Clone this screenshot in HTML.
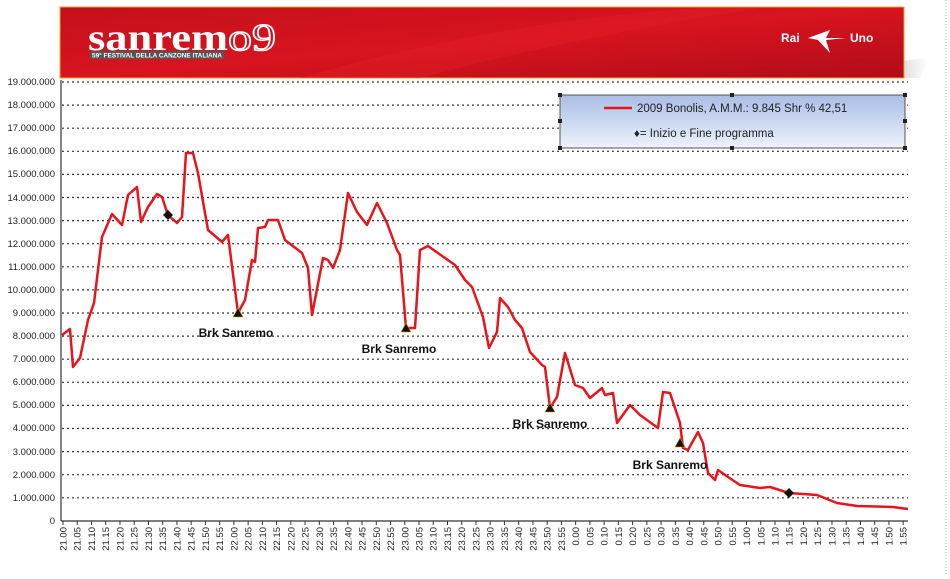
<!DOCTYPE html>
<html><head><meta charset="utf-8"><style>
body{margin:0;background:#fff;width:950px;height:574px;overflow:hidden;font-family:"Liberation Sans",sans-serif}
</style></head><body>
<svg width="950" height="574" viewBox="0 0 950 574" xmlns="http://www.w3.org/2000/svg" font-family="Liberation Sans, sans-serif">
<defs>
<linearGradient id="bn" x1="0" y1="0" x2="1" y2="1">
<stop offset="0" stop-color="#c4101c"/><stop offset="0.5" stop-color="#d8141f"/><stop offset="1" stop-color="#b00c18"/>
</linearGradient>
<linearGradient id="lg" x1="0" y1="0" x2="0" y2="1">
<stop offset="0" stop-color="#a9bde6"/><stop offset="1" stop-color="#eef2fb"/>
</linearGradient>
<linearGradient id="sh" x1="0" y1="0" x2="1" y2="0">
<stop offset="0" stop-color="#999" stop-opacity="0.6"/><stop offset="1" stop-color="#ccc" stop-opacity="0"/>
</linearGradient>
</defs>
<line x1="946" y1="0" x2="946" y2="574" stroke="#bbb" stroke-dasharray="1,2"/>
<polygon points="890,62 930,58 920,78 890,78" fill="url(#sh)"/>
<rect x="60" y="7" width="844" height="71" fill="url(#bn)" stroke="#f0a030" stroke-width="1"/>
<path d="M300,78 Q500,20 700,8 L760,8 Q560,40 420,78Z" fill="#e8202a" opacity="0.35"/>
<text x="88" y="50" font-family="Liberation Serif, serif" font-weight="bold" font-size="38" fill="#fff" textLength="140" lengthAdjust="spacingAndGlyphs">sanrem</text>
<text x="228" y="50" font-family="Liberation Serif, serif" font-size="38" fill="none" stroke="#fff" stroke-width="1.5" textLength="48" lengthAdjust="spacingAndGlyphs">o9</text>
<rect x="90" y="51" width="134" height="8" fill="#555"/>
<text x="92" y="57.5" font-size="6.5" font-weight="bold" fill="#fff" textLength="130" lengthAdjust="spacingAndGlyphs">59° FESTIVAL DELLA CANZONE ITALIANA</text>
<text x="781" y="42" font-size="12" font-weight="bold" fill="#fff">Rai</text>
<text x="850" y="42" font-size="12" font-weight="bold" fill="#fff">Uno</text>
<path d="M808,38 L830,30 L826,38 L846,38 L826,40 L830,53 L818,40Z" fill="#fff"/>
<g stroke="#333" stroke-width="1.2" stroke-dasharray="2,3">
<line x1="62" y1="82" x2="908" y2="82"/><line x1="62" y1="105.1" x2="908" y2="105.1"/><line x1="62" y1="128.2" x2="908" y2="128.2"/><line x1="62" y1="151.3" x2="908" y2="151.3"/><line x1="62" y1="174.4" x2="908" y2="174.4"/><line x1="62" y1="197.5" x2="908" y2="197.5"/><line x1="62" y1="220.6" x2="908" y2="220.6"/><line x1="62" y1="243.7" x2="908" y2="243.7"/><line x1="62" y1="266.8" x2="908" y2="266.8"/><line x1="62" y1="289.9" x2="908" y2="289.9"/><line x1="62" y1="313" x2="908" y2="313"/><line x1="62" y1="336.1" x2="908" y2="336.1"/><line x1="62" y1="359.2" x2="908" y2="359.2"/><line x1="62" y1="382.3" x2="908" y2="382.3"/><line x1="62" y1="405.4" x2="908" y2="405.4"/><line x1="62" y1="428.5" x2="908" y2="428.5"/><line x1="62" y1="451.6" x2="908" y2="451.6"/><line x1="62" y1="474.7" x2="908" y2="474.7"/><line x1="62" y1="497.8" x2="908" y2="497.8"/>
</g>
<line x1="61" y1="80" x2="61" y2="521" stroke="#333" stroke-width="1.2"/>
<line x1="61" y1="521" x2="908" y2="521" stroke="#333" stroke-width="1.2"/>
<g font-size="9.5" fill="#222" text-anchor="end">
<text x="55" y="85">19.000.000</text><text x="55" y="108">18.000.000</text><text x="55" y="131">17.000.000</text><text x="55" y="154">16.000.000</text><text x="55" y="177">15.000.000</text><text x="55" y="201">14.000.000</text><text x="55" y="224">13.000.000</text><text x="55" y="247">12.000.000</text><text x="55" y="270">11.000.000</text><text x="55" y="293">10.000.000</text><text x="55" y="316">9.000.000</text><text x="55" y="339">8.000.000</text><text x="55" y="362">7.000.000</text><text x="55" y="385">6.000.000</text><text x="55" y="408">5.000.000</text><text x="55" y="431">4.000.000</text><text x="55" y="455">3.000.000</text><text x="55" y="478">2.000.000</text><text x="55" y="501">1.000.000</text><text x="55" y="524">0</text>
</g>
<g id="xt" font-size="9.5" fill="#222" text-anchor="end"></g>
<polyline fill="none" stroke="#e8141c" stroke-width="2.5" stroke-linejoin="round" points="62,335 70,329 73,367 80,358 88,320 94,303 102,237 112,214 122,225 128,195 137,187 141,222 148,207 157,194 162,197 168,215 177,223 182,217 186,153 193,153 198,173 208,230 222,242 228,235 238,313 245,300 252,260 255,262 258,228 265,227 268,220 278,220 285,240 302,253 308,268 312,315 323,258 328,260 333,268 340,250 348,193 357,212 367,225 377,203 387,223 397,250 400,255 406,328 415,328 420,250 428,246 445,258 455,265 465,280 472,287 483,317 489,348 497,332 500,298 508,307 515,320 522,328 530,352 542,365 545,367 550,408 557,397 565,353 575,385 583,388 590,398 602,388 605,395 613,393 617,423 630,405 640,415 658,428 663,392 670,393 680,423 683,448 688,450 698,432 703,443 708,473 715,480 718,470 728,477 740,485 760,488 770,487 789,493 817,495 837,503 857,506 893,507 908,509"/>
<g fill="#111">
<path d="M168,210 L173,215 L168,220 L163,215Z"/><path d="M789,488 L794,493 L789,498 L784,493Z"/>
<path d="M238,308 L243,317 L233,317Z" stroke="#c90" stroke-width="0.6"/>
<path d="M406,323 L411,332 L401,332Z" stroke="#c90" stroke-width="0.6"/>
<path d="M550,403 L555,412 L545,412Z" stroke="#c90" stroke-width="0.6"/>
<path d="M680,438 L685,447 L675,447Z" stroke="#c90" stroke-width="0.6"/>
</g>
<g font-size="12" font-weight="bold" fill="#111" text-anchor="middle">
<text x="236" y="337">Brk Sanremo</text><text x="399" y="353">Brk Sanremo</text><text x="550" y="428">Brk Sanremo</text><text x="670" y="469">Brk Sanremo</text>
</g>
<rect x="560" y="95" width="345" height="53" fill="url(#lg)" stroke="#555"/>
<g fill="#222"><rect x="558" y="93" width="4" height="4"/><rect x="903" y="93" width="4" height="4"/><rect x="558" y="146" width="4" height="4"/><rect x="903" y="146" width="4" height="4"/><rect x="730" y="93" width="4" height="4"/><rect x="730" y="146" width="4" height="4"/><rect x="558" y="119" width="4" height="4"/><rect x="903" y="119" width="4" height="4"/></g>
<line x1="604" y1="108" x2="632" y2="108" stroke="#e8141c" stroke-width="2.5"/>
<text x="637" y="112" font-size="11.5" fill="#222">2009 Bonolis, A.M.M.: 9.845  Shr % 42,51</text>
<text x="634" y="137" font-size="11.5" fill="#222">♦= Inizio e Fine programma</text>
</svg>
<script>
var g=document.getElementById('xt'),h=21,m=0,s='';
for(var i=0;i<60;i++){var x=63+i*14.24;var hh=h%24;var lab=(hh==0?'0':hh)+'.'+(m<10?'0':'')+m;
s+='<line x1="'+x+'" y1="521" x2="'+x+'" y2="525" stroke="#333"/>';
s+='<text transform="translate('+(x+3.5)+',527) rotate(-90)">'+lab+'</text>';
m+=5;if(m==60){m=0;h++;}}
g.innerHTML=s;
</script>
</body></html>
